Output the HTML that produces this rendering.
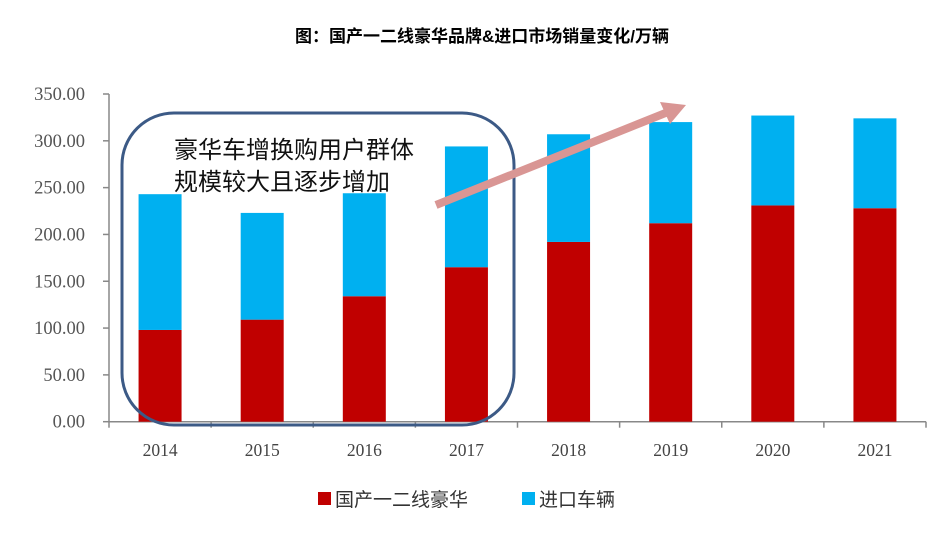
<!DOCTYPE html>
<html><head><meta charset="utf-8">
<style>
html,body{margin:0;padding:0;background:#fff;}
body{width:940px;height:536px;overflow:hidden;font-family:"Liberation Serif","Noto Serif CJK SC",serif;}
</style></head>
<body>
<svg id="chart" width="940" height="536" xmlns="http://www.w3.org/2000/svg">
<text x="482" y="42" text-anchor="middle" font-family="'Liberation Sans','Noto Sans CJK SC',sans-serif" font-size="17" font-weight="bold" fill="#000">图：国产一二线豪华品牌&amp;进口市场销量变化/万辆</text>
<g id="axes"></g>
<g id="bars"></g>
<rect x="122" y="113" width="392" height="312" rx="52" ry="52" fill="none" stroke="#3c5a86" stroke-width="3"/>
<text font-family="'Liberation Sans','Noto Sans CJK SC',sans-serif" font-size="24" fill="#111"><tspan x="174" y="158">豪华车增换购用户群体</tspan><tspan x="174" y="190">规模较大且逐步增加</tspan></text>
<g>
<line x1="436" y1="205" x2="668" y2="112" stroke="#d99694" stroke-width="8"/>
<polygon points="686,105 660,102 670,124" fill="#d99694"/>
</g>
<g font-family="'Liberation Sans','Noto Sans CJK SC',sans-serif" font-size="19" fill="#333">
<rect x="318" y="492" width="13" height="13" fill="#c00000"/>
<text x="335" y="506">国产一二线豪华</text>
<rect x="522" y="492" width="13" height="13" fill="#00b0f0"/>
<text x="539" y="506">进口车辆</text>
</g>
</svg>
<script>
const categories = ["2014","2015","2016","2017","2018","2019","2020","2021"];
const domestic = [98, 109, 134, 165, 192, 212, 231, 228];
const totals = [243, 223, 244, 294, 307, 320, 327, 324];
const yTicks = [0, 50, 100, 150, 200, 250, 300, 350];
const yTickLabels = ["0.00","50.00","100.00","150.00","200.00","250.00","300.00","350.00"];

const NS = "http://www.w3.org/2000/svg";
const x0 = 109, x1 = 926, y0 = 421.7, yTop = 94, yMax = 350;
const band = (x1 - x0) / categories.length;
const yS = v => y0 - (v / yMax) * (y0 - yTop);
const xC = i => x0 + band * (i + 0.5);
function mk(tag, attrs, parent) {
  const el = document.createElementNS(NS, tag);
  for (const k in attrs) el.setAttribute(k, attrs[k]);
  parent.appendChild(el);
  return el;
}
const axes = document.getElementById("axes");
const bars = document.getElementById("bars");
let el = mk("line", {x1: x0, y1: yTop, x2: x0, y2: y0, stroke: "#888", "stroke-width": 1.5}, axes);


el = mk("line", {x1: x0, y1: y0, x2: x1, y2: y0, stroke: "#888", "stroke-width": 1.5}, axes);


yTicks.forEach((t, i) => {
  const y = yS(t);
  const tk = mk("line", {x1: x0 - 6, y1: y, x2: x0, y2: y, stroke: "#888", "stroke-width": 1.5}, axes);
  
  
  const tx = mk("text", {x: 85, y: y + 6, "text-anchor": "end", "font-size": 18.5, fill: "#555"}, axes);
  tx.textContent = yTickLabels[i];
  
  
});
for (let i = 0; i <= categories.length; i++) {
  const x = x0 + band * i;
  const tk = mk("line", {x1: x, y1: y0, x2: x, y2: y0 + 6, stroke: "#888", "stroke-width": 1.5}, axes);
  
  
}
const bw = 43;
categories.forEach((c, i) => {
  const cx = xC(i);
  const r = mk("rect", {x: cx - bw / 2, y: yS(domestic[i]), width: bw, height: y0 - yS(domestic[i]), fill: "#c00000"}, bars);
  
  
  const b = mk("rect", {x: cx - bw / 2, y: yS(totals[i]), width: bw, height: yS(domestic[i]) - yS(totals[i]), fill: "#00b0f0"}, bars);
  
  
  const t = mk("text", {x: cx, y: 456, "text-anchor": "middle", "font-size": 17.5, fill: "#444"}, axes);
  t.textContent = c;
  
  
});
</script>
</body></html>
